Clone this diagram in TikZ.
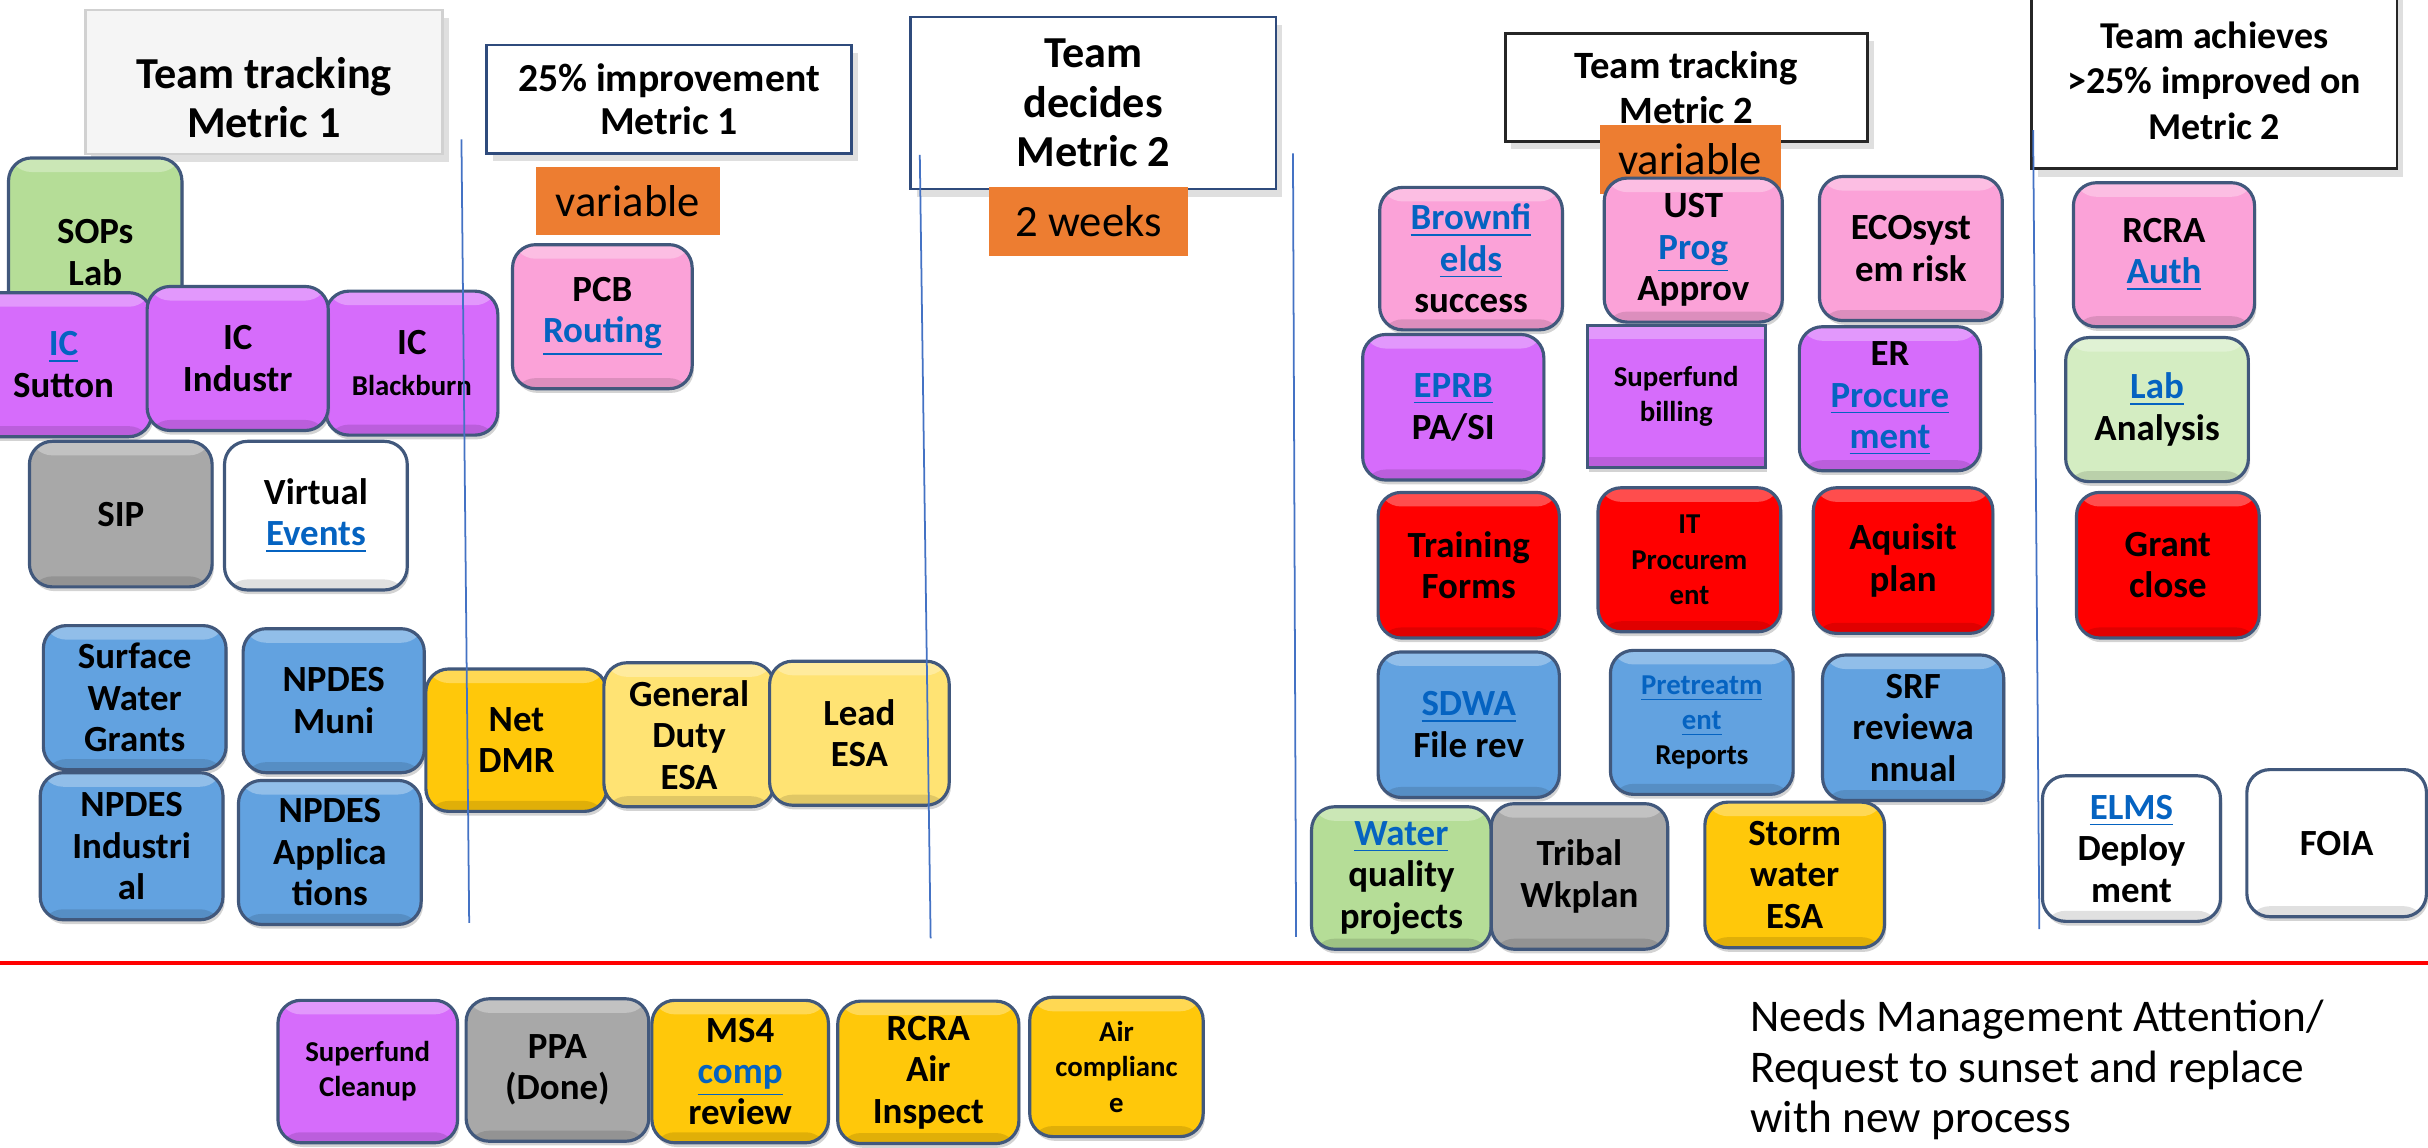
\documentclass[tikz,border=0pt]{standalone}
\usepackage{fontspec}
\setmainfont{Carlito}
\usepackage{xcolor}
\usetikzlibrary{shadows}
\definecolor{boxline}{HTML}{41587C}
\definecolor{pinkbox}{HTML}{FBA2D8}
\definecolor{purplebox}{HTML}{D66CFB}
\definecolor{greenbox}{HTML}{B5DD97}
\definecolor{palegreen}{HTML}{D4EDC2}
\definecolor{graybox}{HTML}{A8A8A8}
\definecolor{bluebox}{HTML}{62A2E0}
\definecolor{redbox}{HTML}{FF0000}
\definecolor{goldbox}{HTML}{FFC80A}
\definecolor{paleyellow}{HTML}{FFE373}
\definecolor{tagorange}{HTML}{ED7D31}
\definecolor{linkblue}{HTML}{0563C1}
\definecolor{splitblue}{HTML}{4472C4}
\definecolor{hdrblue}{HTML}{2F4B7C}
\newcommand{\pxu}{0.015485cm}
\newcommand{\lnk}[1]{{\color{linkblue}\underline{#1}}}
\newcommand{\sm}{\fontsize{8.2}{10}\selectfont}

\begin{document}
\begin{tikzpicture}[
  x=\pxu, y=-\pxu,
  wh/.style 2 args={minimum width=#1*\pxu, minimum height=#2*\pxu},
  box/.style={draw=boxline, line width=0.9pt, rounded corners=2.3mm, fill=#1, align=center,
              font=\bfseries\fontsize{10.5}{11.8}\selectfont, inner sep=1pt, wh={117}{93},
              drop shadow={shadow xshift=0.5pt, shadow yshift=-1.2pt, opacity=0.35},
              path picture={\fill[white, opacity=0.3] (path picture bounding box.north west)
                 rectangle ([yshift=-4pt]path picture bounding box.north east);
                 \fill[black, opacity=0.12] (path picture bounding box.south west)
                 rectangle ([yshift=3pt]path picture bounding box.south east);}},
  hdr/.style={draw=#1, line width=0.8pt, fill=white, align=center, inner sep=1pt,
              font=\bfseries\fontsize{11}{12.6}\selectfont,
              drop shadow={shadow xshift=1.8pt, shadow yshift=-2.2pt, opacity=0.25}},
  tag/.style={fill=tagorange, inner sep=0pt, font=\fontsize{12.7}{14}\selectfont},
  split/.style={splitblue, line width=0.5pt},
  note/.style={align=left, inner sep=0pt, font=\fontsize{12.9}{14.4}\selectfont}
]
\useasboundingbox (0,0) rectangle (1568,741);

\node[hdr=black!18, fill=black!4, wh={231}{93}, font=\bfseries\fontsize{12.6}{13.8}\selectfont]
  (trk1) at (170.5,53) {\rule{0pt}{6.2mm}Team tracking\\Metric 1};
\node[hdr=hdrblue, wh={236}{70}, font=\bfseries\fontsize{11.3}{12.3}\selectfont]
  (imp1) at (432,64) {25\% improvement\\Metric 1};
\node[hdr=hdrblue, wh={236}{111}, font=\bfseries\fontsize{12.6}{14}\selectfont]
  (dec2) at (706,66.5) {Team\\decides\\Metric 2};
\node[hdr=black!85, wh={234}{70}] (trk2) at (1089,56.5) {Team tracking\\Metric 2};
\node[hdr=black!85, wh={236}{114}, font=\bfseries\fontsize{10.8}{12.9}\selectfont]
  (ach2) at (1430,52) {Team achieves\\>25\% improved on\\Metric 2};

\node[tag, wh={119}{44}] (var1) at (405.5,130) {variable};
\node[tag, wh={128}{44}] (wks2) at (703,143) {2 weeks};
\node[tag, wh={117}{44}] (var2) at (1091.5,103) {variable};

\node[box=greenbox, wh={112}{122}] (sops) at (61.5,163) {SOPs\\Lab};
\node[box=purplebox, wh={114}{93}] (icsut) at (41,235.5) {\lnk{IC}\\Sutton};
\node[box=purplebox, wh={111}{93}] (icblk) at (266,234.5) {IC\\{\sm Blackburn}};
\node[box=purplebox] (icind) at (153.5,231.5) {IC\\Industr};
\node[box=pinkbox, wh={116}{93}] (pcb) at (389,204.5) {PCB\\\lnk{Routing}};
\node[box=graybox, wh={118}{94}] (sip) at (78,332) {SIP};
\node[box=white, wh={118}{96}] (virt) at (204,333) {Virtual\\\lnk{Events}};
\node[box=bluebox, wh={118}{93}] (surf) at (87,450.5) {Surface\\Water\\Grants};
\node[box=bluebox] (muni) at (215.5,452.5) {NPDES\\Muni};
\node[box=bluebox, wh={118}{95}] (indu) at (85,546.5) {NPDES\\Industri\\al};
\node[box=bluebox, wh={118}{93}] (appl) at (213,550.5) {NPDES\\Applica\\tions};
\node[box=goldbox, wh={117}{92}] (netdmr) at (333.5,478) {Net\\DMR};
\node[box=paleyellow, wh={110}{93}] (gendut) at (445,474.5) {General\\Duty\\ESA};
\node[box=paleyellow, wh={116}{93}] (lead) at (555,473.5) {Lead\\ESA};

\node[box=pinkbox, wh={118}{92}] (brown) at (950,167) {\lnk{Brownfi}\\\lnk{elds}\\success};
\node[box=pinkbox, wh={115}{93}] (ust) at (1093.5,161.5) {UST\\\lnk{Prog}\\Approv};
\node[box=pinkbox, wh={118}{93}] (eco) at (1234,160.5) {ECOsyst\\em risk};
\node[box=purplebox, wh={117}{94}] (eprb) at (938.5,263) {\lnk{EPRB}\\PA/SI};
\node[box=purplebox, sharp corners, wh={115}{92}, font=\bfseries\sm] (sfbill) at (1082.5,256) {Superfund\\billing};
\node[box=purplebox] (erproc) at (1220.5,257.5) {ER\\\lnk{Procure}\\\lnk{ment}};
\node[box=redbox, wh={117}{94}] (train) at (948.5,365) {Training\\Forms};
\node[box=redbox, wh={118}{93}, font=\bfseries\sm] (itproc) at (1091,361.5) {IT\\Procurem\\ent};
\node[box=redbox, wh={116}{94}] (aqui) at (1229,362) {Aquisit\\plan};
\node[box=bluebox, wh={117}{94}] (sdwa) at (948.5,468) {\lnk{SDWA}\\File rev};
\node[box=bluebox, wh={118}{93}, font=\bfseries\sm] (pretr) at (1099,466.5) {\lnk{Pretreatm}\\\lnk{ent}\\Reports};
\node[box=bluebox, wh={117}{94}] (srf) at (1235.5,470) {SRF\\reviewa\\nnual};
\node[box=greenbox, wh={116}{92}] (water) at (905,567) {\lnk{Water}\\quality\\projects};
\node[box=graybox, wh={114}{94}] (tribal) at (1020,566) {Tribal\\Wkplan};
\node[box=goldbox, wh={116}{94}] (storm) at (1159,565) {Storm\\water\\ESA};

\node[box=pinkbox] (rcra) at (1397.5,164.5) {RCRA\\\lnk{Auth}};
\node[box=palegreen, wh={118}{93}] (lab) at (1393,264.5) {\lnk{Lab}\\Analysis};
\node[box=redbox, wh={118}{94}] (grant) at (1400,365) {Grant\\close};
\node[box=white, wh={115}{94}] (elms) at (1376.5,548) {\lnk{ELMS}\\Deploy\\ment};
\node[box=white, wh={116}{95}] (foia) at (1509,544.5) {FOIA};

\node[box=purplebox, wh={116}{92}, font=\bfseries\sm] (sfclean) at (237.5,692) {Superfund\\Cleanup};
\node[box=graybox, wh={118}{92}] (ppa) at (360,691) {PPA\\(Done)};
\node[box=goldbox, wh={114}{92}] (ms4) at (478,692) {MS4\\\lnk{comp}\\review};
\node[box=goldbox, wh={117}{92}] (rcraair) at (599.5,692.5) {RCRA\\Air\\Inspect};
\node[box=goldbox, wh={112}{90}, font=\bfseries\sm] (aircomp) at (721,689) {Air\\complianc\\e};

\foreach \a/\b/\c/\d in {298/90/303/596, 594/100/601/606, 835/99/837/605, 1313/84/1317/600}
  \draw[split] (\a,\b) -- (\c,\d);
\draw[red, line width=1.3pt] (0,622) -- (1568,622);

\node[note, anchor=west] (ask) at (1130,691) {Needs Management Attention/\\Request to sunset and replace\\with new process};
\end{tikzpicture}
\end{document}
